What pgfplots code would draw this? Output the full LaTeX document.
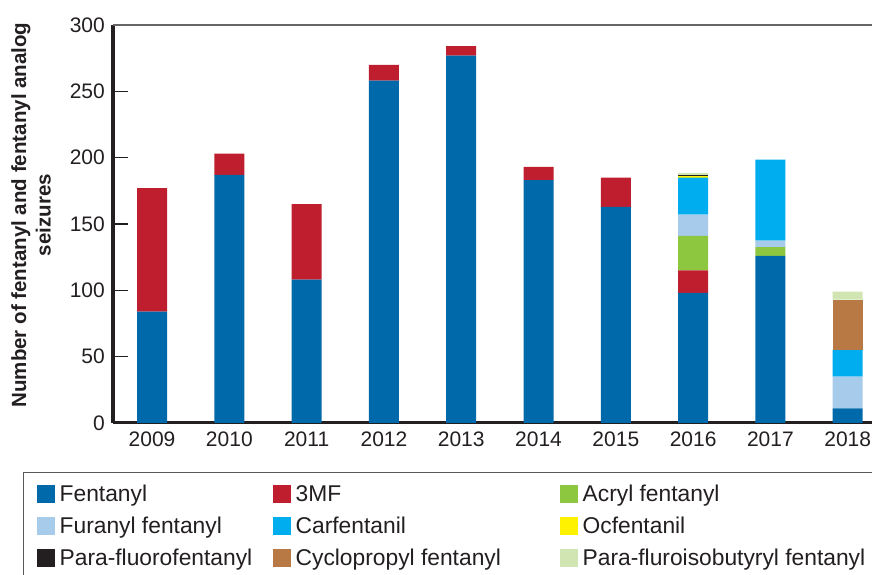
\documentclass[border=0pt]{standalone}
\usepackage{fontspec}
\setmainfont{Liberation Sans}
\usepackage{pgfplots}
\usepackage{pgfplotstable}
\pgfplotsset{compat=1.18}
\definecolor{cfent}{HTML}{0069AA}
\definecolor{cmf}{HTML}{BE1E2D}
\definecolor{cacryl}{HTML}{8DC63F}
\definecolor{cfur}{HTML}{A6CBEB}
\definecolor{ccarf}{HTML}{00AEEF}
\definecolor{cocf}{HTML}{FFF200}
\definecolor{cpf}{HTML}{231F20}
\definecolor{ccyc}{HTML}{B87945}
\definecolor{cpfib}{HTML}{D1E5B3}
\definecolor{textc}{HTML}{231F20}
\pgfplotsset{legsq/.style={legend image code/.code={\fill[##1] (0pt,-9pt) rectangle (18pt,9pt);}}}
\pgfplotstableread{
x fent mf acryl fur carf ocf pf cyc pfib
0 84 93 0 0 0 0 0 0 0
1 187 16 0 0 0 0 0 0 0
2 108 57 0 0 0 0 0 0 0
3 258 12 0 0 0 0 0 0 0
4 277 7 0 0 0 0 0 0 0
5 183 10 0 0 0 0 0 0 0
6 163 22 0 0 0 0 0 0 0
7 98 17 26 16 28 1.2 0.8 0 1.5
8 126 0 6.5 5 61 0 0 0 0
9 11 0 0 24 20 0 0 38 6
}\data
\begin{document}
\begin{tikzpicture}[x=1pt,y=1pt]
\begin{axis}[
  at={(113pt,152pt)}, anchor=south west,
  scale only axis, width=762pt, height=398pt,
  xmin=-0.505, xmax=9.353, ymin=0, ymax=300,
  ybar stacked, bar width=30pt,
  axis x line*=bottom, axis y line*=left,
  x axis line style={line width=3pt, color=textc},
  y axis line style={line width=4pt, color=textc},
  xtick={0,...,9}, xticklabels={2009,2010,2011,2012,2013,2014,2015,2016,2017,2018},
  xtick style={draw=none},
  ytick={0,50,...,300},
  tick align=inside, major tick length=15pt,
  ytick style={line width=1.3pt, color=textc},
  extra y ticks={300}, extra y tick labels={},
  extra y tick style={grid=major, major grid style={color=black!60, line width=1.2pt}, ytick style={draw=none}},
  /pgf/number format/assume math mode=true,
  yticklabel style={font=\fontsize{21}{25}\selectfont, text=textc, inner xsep=0pt, xshift=-8pt},
  xticklabel style={font=\fontsize{21}{25}\selectfont, text=textc, inner ysep=0pt, yshift=-9pt},
  legend columns=3, legend cell align=left,
  legend style={at={(-0.1181,-0.1231)}, anchor=north west, draw=black!65, line width=1.3pt,
    column sep=0pt, row sep=0pt, inner xsep=13pt, inner ysep=5pt,
    nodes={inner sep=0pt, minimum height=32pt, text height=16.2pt, text depth=0pt,
      font=\fontsize{22.8}{26}\selectfont, text=textc}},
]
\addplot[fill=cfent, draw=none, legsq] table[x=x,y=fent]{\data};
\addlegendentry{\makebox[218pt][l]{\hspace{5pt}Fentanyl}}
\addplot[fill=cmf, draw=none, legsq] table[x=x,y=mf]{\data};
\addlegendentry{\makebox[269pt][l]{\hspace{5pt}3MF}}
\addplot[fill=cacryl, draw=none, legsq] table[x=x,y=acryl]{\data};
\addlegendentry{\hspace{5pt}Acryl fentanyl}
\addplot[fill=cfur, draw=none, legsq] table[x=x,y=fur]{\data};
\addlegendentry{\makebox[218pt][l]{\hspace{5pt}Furanyl fentanyl}}
\addplot[fill=ccarf, draw=none, legsq] table[x=x,y=carf]{\data};
\addlegendentry{\makebox[269pt][l]{\hspace{5pt}Carfentanil}}
\addplot[fill=cocf, draw=none, legsq] table[x=x,y=ocf]{\data};
\addlegendentry{\hspace{5pt}Ocfentanil}
\addplot[fill=cpf, draw=none, legsq] table[x=x,y=pf]{\data};
\addlegendentry{\makebox[218pt][l]{\hspace{5pt}Para-fluorofentanyl}}
\addplot[fill=ccyc, draw=none, legsq] table[x=x,y=cyc]{\data};
\addlegendentry{\makebox[269pt][l]{\hspace{5pt}Cyclopropyl fentanyl}}
\addplot[fill=cpfib, draw=none, legsq] table[x=x,y=pfib]{\data};
\addlegendentry{\hspace{5pt}Para-fluroisobutyryl fentanyl}
\end{axis}
\node[rotate=90, align=center, font=\fontsize{20.5}{24.5}\selectfont\bfseries, text=textc] at (31,360) {Number of fentanyl and fentanyl analog\\seizures};
\pgfresetboundingbox
\useasboundingbox (0,0) rectangle (872,575);
\end{tikzpicture}
\end{document}
